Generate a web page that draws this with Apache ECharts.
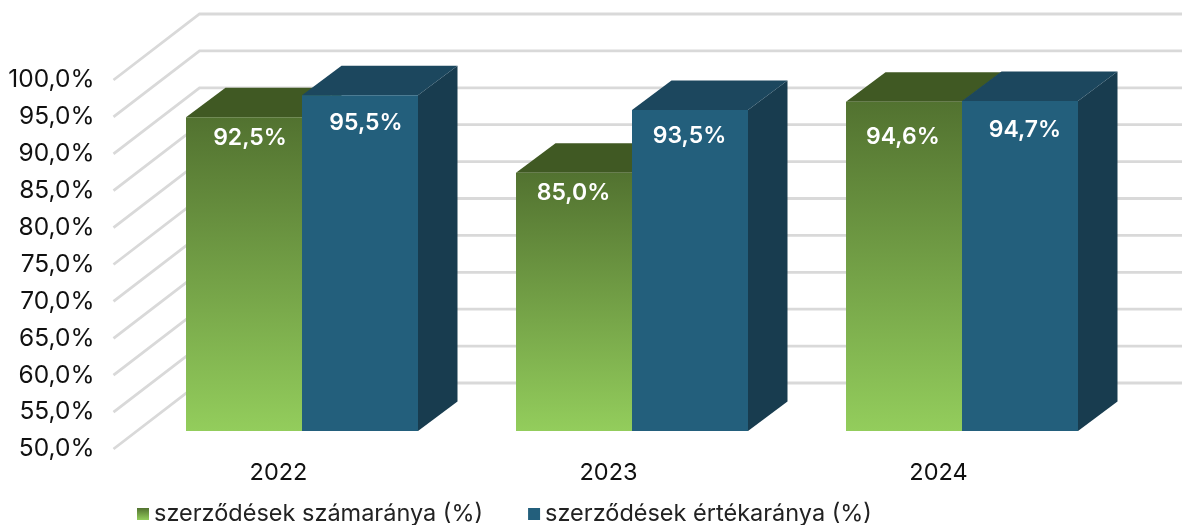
<!DOCTYPE html>
<html><head><meta charset="utf-8">
<style>html,body{margin:0;padding:0;background:#fff}#c{width:1182px;height:525px}</style>
<script src="https://cdn.jsdelivr.net/npm/echarts@6/dist/echarts.min.js"></script>
</head><body><div id="c"></div>
<script>
const categories = ['2022','2023','2024'];
const countShare = [92.5,85.0,94.6];
const valueShare = [95.5,93.5,94.7];
const yTicks = [50,55,60,65,70,75,80,85,90,95,100];
const countName = 'szerződések számaránya (%)';
const valueName = 'szerződések értékaránya (%)';

// label nudges (px from bar-centre / bar-top) as placed in the reference
const countLabelNudge = [[6,21],[-0.5,20],[-1,35]];
const valueLabelNudge = [[6,28],[-0.5,26],[5,29]];

const FONT = 'Inter';
const WALL = [86,-66], BARFRONT = [23.5,-18], BARDEPTH = [39.5,-29.5];
const BAR_RATIO = 116/330;
const vGrad = (a,b)=>({type:'linear',x:0,y:0,x2:0,y2:1,colorStops:[{offset:0,color:a},{offset:1,color:b}]});
const greenFront = vGrad('#527230','#93CD5C');
const blueFront = '#235F7C';

function barRender(dir,top,side,front,nudges){
  return function(params,api){
    const i=api.value(0), v=api.value(1);
    const w=api.size([1,0])[0]*BAR_RATIO;
    const c=api.coord([i,v]), b=api.coord([i,50]);
    const x0=c[0]+BARFRONT[0]+(dir<0?-w:0), x1=x0+w;
    const yT=c[1]+BARFRONT[1], yB=b[1]+BARFRONT[1];
    const dx=BARDEPTH[0], dy=BARDEPTH[1];
    const n=nudges[params.dataIndex];
    const poly=(pts,fill)=>({type:'polygon',shape:{points:pts},style:{fill:fill}});
    return {type:'group',children:[
      poly([[x1,yT],[x1+dx,yT+dy],[x1+dx,yB+dy],[x1,yB]],side),
      poly([[x0,yT],[x0+dx,yT+dy],[x1+dx,yT+dy],[x1,yT]],top),
      poly([[x0,yT],[x1,yT],[x1,yB],[x0,yB]],front),
      {type:'text',style:{text:v.toFixed(1).replace('.',',')+'%',x:(x0+x1)/2+n[0],y:yT+n[1],
        fill:'#fff',font:'600 23px '+FONT,textAlign:'center',textVerticalAlign:'middle'}}
    ]};
  };
}
const chart=echarts.init(document.getElementById('c'),null,{renderer:'canvas'});
chart.setOption({
  animation:false,backgroundColor:'#fff',
  grid:{left:113.5,top:80,width:990,height:369,containLabel:false},
  xAxis:{type:'category',data:categories,axisLine:{show:false},axisTick:{show:false},
    axisLabel:{color:'#111',fontFamily:FONT,fontSize:23.5,margin:12}},
  yAxis:{type:'value',min:50,max:100,interval:5,splitLine:{show:false},axisLine:{show:false},axisTick:{show:false},
    axisLabel:{color:'#111',fontFamily:FONT,fontSize:24.5,margin:19,padding:[0,0,6,0],
      formatter:v=>v.toFixed(1).replace('.',',')+'%'}},
  legend:{data:[countName,valueName],left:137,top:502,padding:0,icon:'rect',itemWidth:12,itemHeight:12,itemGap:45,
    selectedMode:false,textStyle:{color:'#222',fontFamily:FONT,fontSize:23.5}},
  series:[
    {type:'custom',name:'walls',silent:true,z:1,encode:{x:0,y:1},
     data:yTicks.map(t=>[0,t]),
     renderItem(params,api){
       const cs=params.coordSys, y=api.coord([0,api.value(1)])[1], x=cs.x;
       return {type:'polyline',shape:{points:[[x,y],[x+WALL[0],y+WALL[1]],[x+cs.width+WALL[0],y+WALL[1]]]},
         style:{stroke:'#D9D9D9',lineWidth:2.8,fill:null}};
     }},
    {type:'custom',name:countName,z:2,encode:{x:0,y:1},itemStyle:{color:vGrad('#527230','#93CD5C')},
     data:countShare.map((v,i)=>[i,v]),
     renderItem:barRender(-1,'#405923','#405923',greenFront,countLabelNudge)},
    {type:'custom',name:valueName,z:3,encode:{x:0,y:1},itemStyle:{color:blueFront},
     data:valueShare.map((v,i)=>[i,v]),
     renderItem:barRender(1,'#1C475E','#183C4F',blueFront,valueLabelNudge)}
  ]
});
</script></body></html>
